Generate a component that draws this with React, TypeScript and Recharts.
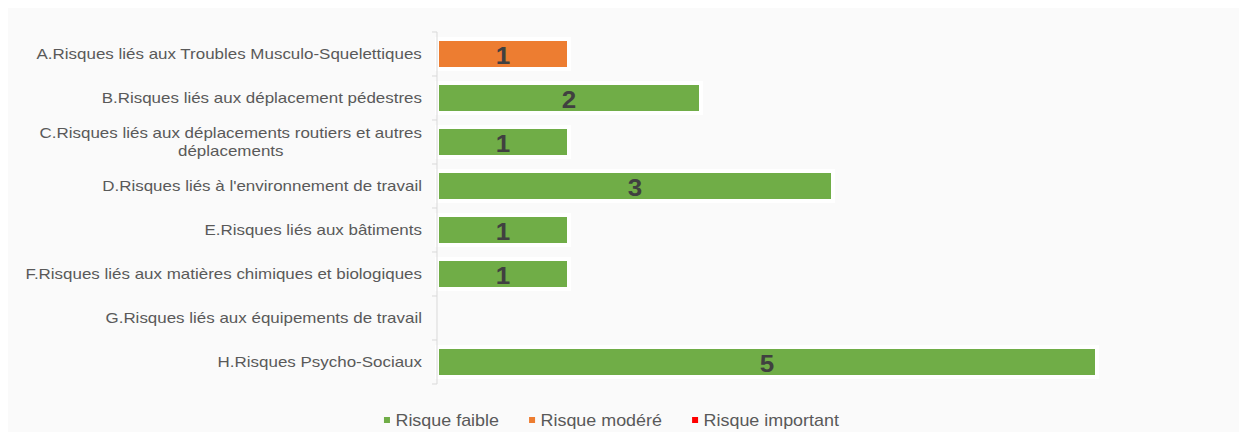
import React from 'react';
import { BarChart, Bar, XAxis, YAxis, Legend, LabelList } from 'recharts';

const CATEGORIES = [
  'A.Risques liés aux Troubles Musculo-Squelettiques',
  'B.Risques liés aux déplacement pédestres',
  'C.Risques liés aux déplacements routiers et autres déplacements',
  "D.Risques liés à l'environnement de travail",
  'E.Risques liés aux bâtiments',
  'F.Risques liés aux matières chimiques et biologiques',
  'G.Risques liés aux équipements de travail',
  'H.Risques Psycho-Sociaux',
];
const RISQUE_FAIBLE = [0, 2, 1, 3, 1, 1, 0, 5];
const RISQUE_MODERE = [1, 0, 0, 0, 0, 0, 0, 0];
const RISQUE_IMPORTANT = [0, 0, 0, 0, 0, 0, 0, 0];
const SERIES_NAMES = ['Risque faible', 'Risque modéré', 'Risque important'];
const SERIES_KEYS = ['faible', 'modere', 'important'];
const SERIES_COLORS = ['#70ad47', '#ed7d31', '#ff0000'];
const X_DOMAIN: [number, number] = [0, 6];

const data = CATEGORIES.map((name, i) => ({
  name,
  faible: RISQUE_FAIBLE[i],
  modere: RISQUE_MODERE[i],
  important: RISQUE_IMPORTANT[i],
}));

const W = 1243;
const H = 424;
const MARGIN = { top: 24, right: 18, bottom: 48, left: 0 };
const Y_AXIS_W = 433;
const PLOT_H = H - MARGIN.top - MARGIN.bottom;
const BAND = PLOT_H / CATEGORIES.length;
const SX = 1.13;
const FAMILY = '"Liberation Sans", Arial, sans-serif';
const TICK_FONT = '15px "Liberation Sans"';
const LEGEND_FONT = '16px "Liberation Sans"';
const AXIS_COLOR = '#d9d9d9';

let ctx: CanvasRenderingContext2D | null = null;
function measure(text: string, font: string): number {
  if (!ctx) ctx = document.createElement('canvas').getContext('2d');
  if (!ctx) return text.length * 7;
  ctx.font = font;
  return ctx.measureText(text).width;
}

function wrap(text: string, max: number, font: string): string[] {
  const words = text.split(' ');
  const lines: string[] = [];
  let cur = '';
  for (const w of words) {
    const t = cur ? cur + ' ' + w : w;
    if (cur && measure(t, font) > max) {
      lines.push(cur);
      cur = w;
    } else cur = t;
  }
  if (cur) lines.push(cur);
  return lines;
}

const CategoryTick = (props: any) => {
  const { x, y, payload, index } = props;
  const lines = wrap(String(payload.value), 365, TICK_FONT);
  const widths = lines.map((l) => measure(l, TICK_FONT));
  const bw = Math.max(...widths);
  const lh = 18;
  const axisX = x + 8;
  return (
    <g>
      <line x1={axisX - 5} x2={axisX} y1={y - BAND / 2} y2={y - BAND / 2} stroke={AXIS_COLOR} />
      {index === CATEGORIES.length - 1 && (
        <line x1={axisX - 5} x2={axisX} y1={y + BAND / 2} y2={y + BAND / 2} stroke={AXIS_COLOR} />
      )}
      <g transform={`translate(${x - 7},${y}) scale(${SX},1)`}>
        <text fontFamily={FAMILY} fontSize={15} fill="#595959" textAnchor="middle">
          {lines.map((l, i) => (
            <tspan key={i} x={-bw / 2} y={(i - (lines.length - 1) / 2) * lh} dy={4.8}>
              {l}
            </tspan>
          ))}
        </text>
      </g>
    </g>
  );
};

const ValueLabel = (props: any) => {
  const { x, y, width, height, value } = props;
  if (!value) return null;
  const cx = Number(x) + Number(width) / 2;
  const cy = Number(y) + Number(height) / 2;
  return (
    <g transform={`translate(${cx},${cy}) scale(${SX},1)`}>
      <text x={0} y={0} dy={9.5} textAnchor="middle" fontFamily={FAMILY} fontSize={23} fontWeight="bold" fill="#404040">
        {value}
      </text>
    </g>
  );
};

const LegendContent = () => {
  const sq = 6;
  const gap1 = 5.5;
  const gap2 = 30;
  const sxL = 1.12;
  const items = SERIES_NAMES.map((n) => measure(n, LEGEND_FONT) * sxL);
  const total = items.reduce((a, b) => a + b, 0) + SERIES_NAMES.length * (sq + gap1) + (SERIES_NAMES.length - 1) * gap2;
  let cur = W / 2 - 14 - total / 2;
  return (
    <svg width={W} height={26} style={{ display: 'block' }}>
      {SERIES_NAMES.map((n, i) => {
        const x0 = cur;
        cur += sq + gap1 + items[i] + gap2;
        return (
          <g key={n}>
            <rect x={x0} y={10} width={sq} height={sq} fill={SERIES_COLORS[i]} />
            <g transform={`translate(${x0 + sq + gap1},18.5) scale(${sxL},1)`}>
              <text x={0} y={0} fontFamily={FAMILY} fontSize={16} fill="#595959">
                {n}
              </text>
            </g>
          </g>
        );
      })}
    </svg>
  );
};

export default function App() {
  return (
    <div style={{ position: 'relative', left: -4, width: W, height: H, background: '#fafafa' }}>
      <BarChart width={W} height={H} data={data} layout="vertical" margin={MARGIN}>
        <XAxis type="number" domain={X_DOMAIN} hide />
        <YAxis
          type="category"
          dataKey="name"
          width={Y_AXIS_W}
          interval={0}
          tickLine={false}
          axisLine={{ stroke: AXIS_COLOR }}
          tick={<CategoryTick />}
        />
        <Legend
          layout="horizontal"
          verticalAlign="middle"
          align="center"
          content={<LegendContent />}
          wrapperStyle={{ top: 399, left: 0, width: W, height: 26 }}
        />
        {SERIES_KEYS.map((k, i) => (
          <Bar
            key={k}
            dataKey={k}
            name={SERIES_NAMES[i]}
            stackId="a"
            fill={SERIES_COLORS[i]}
            stroke="#ffffff"
            strokeWidth={4}
            barSize={30}
            isAnimationActive={false}
          >
            <LabelList dataKey={k} content={<ValueLabel />} />
          </Bar>
        ))}
      </BarChart>
    </div>
  );
}
